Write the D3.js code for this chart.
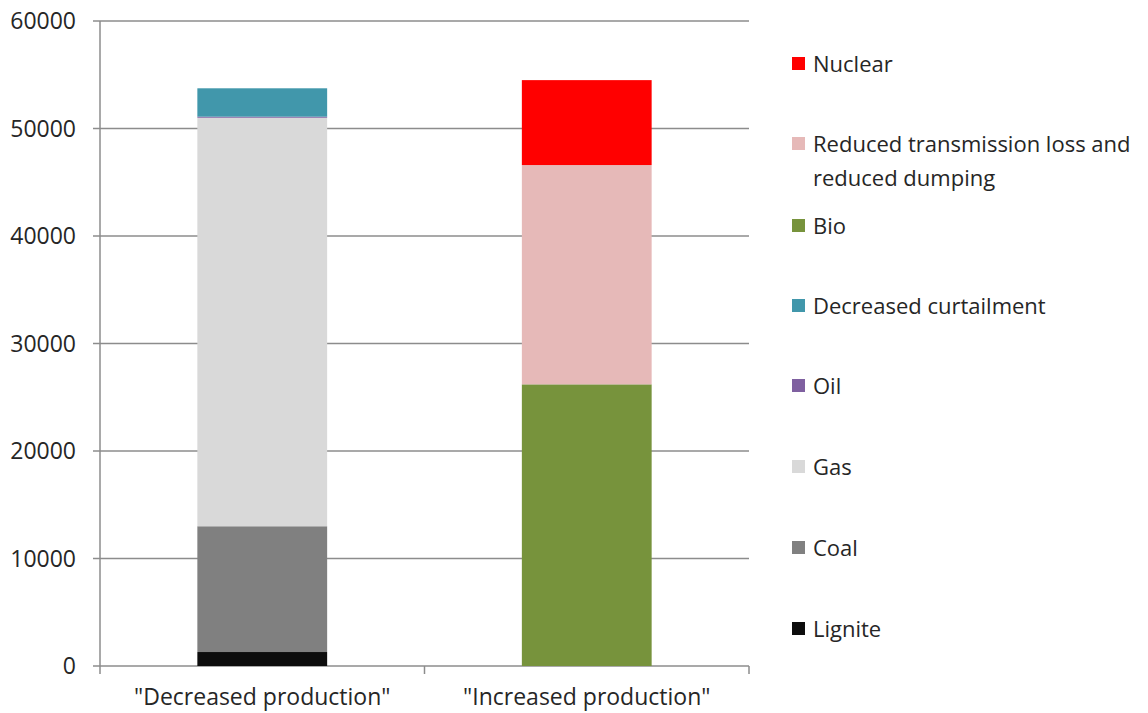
<!DOCTYPE html>
<html>
<head>
<meta charset="utf-8">
<script src="https://cdn.jsdelivr.net/npm/d3@7"></script>
<style>
  html, body { margin: 0; padding: 0; background: #fff; }
  svg text { font-family: "Open Sans", Lato, sans-serif; fill: #262626; }
</style>
</head>
<body>
<svg id="chart" width="1148" height="713"></svg>
<script>
// Categories (x axis)
const categories = ['"Decreased production"', '"Increased production"'];

// Series, bottom to top of each stack
const seriesNames = ["Lignite", "Coal", "Gas", "Oil", "Decreased curtailment", "Bio",
  "Reduced transmission loss and reduced dumping", "Nuclear"];
const lignite      = [1300, 0];
const coal         = [11700, 0];
const gas          = [38000, 0];
const oil          = [100, 0];
const curtailment  = [2640, 0];
const bio          = [0, 26200];
const transmission = [0, 20400];
const nuclear      = [0, 7900];

const seriesColors = ["#0d0d0d", "#808080", "#d9d9d9", "#7f60a0", "#4197ab", "#77933c", "#e6b9b8", "#ff0000"];

// Legend order, top to bottom
const legendOrder = ["Nuclear", "Reduced transmission loss and reduced dumping", "Bio",
  "Decreased curtailment", "Oil", "Gas", "Coal", "Lignite"];
const legendLines = {
  "Reduced transmission loss and reduced dumping": ["Reduced transmission loss and", "reduced dumping"]
};

const yTicks = [0, 10000, 20000, 30000, 40000, 50000, 60000];

const seriesValues = [lignite, coal, gas, oil, curtailment, bio, transmission, nuclear];
const rows = categories.map((c, i) => {
  const r = { category: c };
  seriesNames.forEach((s, k) => { r[s] = seriesValues[k][i]; });
  return r;
});

const svg = d3.select("#chart");
const plotLeft = 100, plotRight = 749, plotTop = 21, plotBottom = 666;

const x = d3.scaleBand().domain(categories).range([plotLeft, plotRight])
  .paddingInner(0.6).paddingOuter(0.3);
const xCat = d3.scaleBand().domain(categories).range([plotLeft, plotRight]);
const y = d3.scaleLinear().domain([0, 60000]).range([plotBottom, plotTop]);
const color = d3.scaleOrdinal().domain(seriesNames).range(seriesColors);

// Horizontal gridlines
svg.append("g").selectAll("line").data(yTicks).join("line")
  .attr("x1", plotLeft - 7).attr("x2", plotRight)
  .attr("y1", d => y(d)).attr("y2", d => y(d))
  .attr("stroke", "#8c8c8c").attr("stroke-width", 1.5);

// Y axis labels
svg.append("g").selectAll("text").data(yTicks).join("text")
  .attr("x", plotLeft - 24).attr("y", d => y(d)).attr("dy", "0.35em")
  .attr("text-anchor", "end").attr("font-size", 23)
  .text(d => d);

// Y axis line
svg.append("line").attr("x1", plotLeft).attr("x2", plotLeft)
  .attr("y1", plotTop).attr("y2", plotBottom + 8)
  .attr("stroke", "#8c8c8c").attr("stroke-width", 1.5);

// Category boundary ticks
const bounds = categories.map(c => xCat(c) + xCat.bandwidth());
svg.append("g").selectAll("line").data(bounds).join("line")
  .attr("x1", d => d).attr("x2", d => d)
  .attr("y1", plotBottom).attr("y2", plotBottom + 8)
  .attr("stroke", "#8c8c8c").attr("stroke-width", 1.5);

// Stacked bars
const stack = d3.stack().keys(seriesNames)(rows);
svg.append("g").selectAll("g").data(stack).join("g")
  .attr("fill", d => color(d.key))
  .selectAll("rect").data(d => d.filter(p => p[1] - p[0] > 0)).join("rect")
  .attr("x", d => x(d.data.category))
  .attr("width", x.bandwidth())
  .attr("y", d => y(d[1]))
  .attr("height", d => Math.max(1, y(d[0]) - y(d[1])));

// Category labels
svg.append("g").selectAll("text").data(categories).join("text")
  .attr("x", d => xCat(d) + xCat.bandwidth() / 2)
  .attr("y", 697).attr("dy", "0.35em")
  .attr("text-anchor", "middle").attr("font-size", 23)
  .text(d => d);

// Legend
const legendYs = [64, 144, 226, 306, 386, 467, 548, 629];
const lg = svg.append("g").selectAll("g").data(legendOrder).join("g")
  .attr("transform", (d, i) => `translate(792, ${legendYs[i]})`);
lg.append("rect").attr("x", 0).attr("y", -7).attr("width", 13).attr("height", 13)
  .attr("fill", d => color(d));
lg.each(function(d) {
  const lines = legendLines[d] || [d];
  const t = d3.select(this).append("text")
    .attr("x", 21).attr("y", 0).attr("font-size", 22);
  lines.forEach((ln, j) => {
    t.append("tspan").attr("x", 21).attr("dy", j === 0 ? "0.35em" : "1.55em").text(ln);
  });
});
</script>
</body>
</html>
